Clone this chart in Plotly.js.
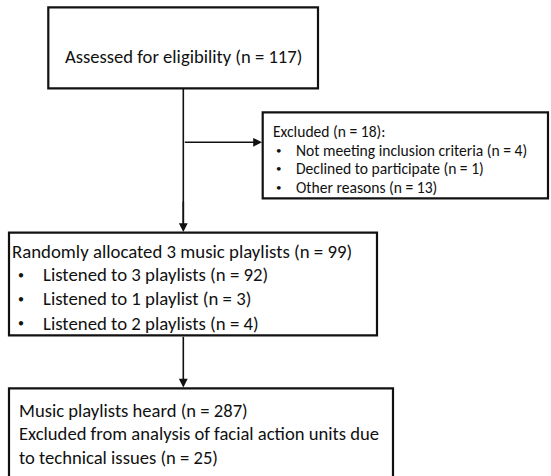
<!DOCTYPE html>
<html>
<head>
<meta charset="utf-8">
<script src="https://cdn.plot.ly/plotly-3.0.1.min.js"></script>
<style>html,body{margin:0;padding:0;background:#fff;}#chart{width:551px;height:476px;}</style>
</head>
<body>
<div id="chart"></div>
<script>
// Flow-chart content
const assessedLines = ["Assessed for eligibility (n = 117)"];
const excludedHeader = ["Excluded (n = 18):"];
const excludedBullets = ["Not meeting inclusion criteria (n = 4)", "Declined to participate (n = 1)", "Other reasons (n = 13)"];
const allocatedHeader = ["Randomly allocated 3 music playlists (n = 99)"];
const allocatedBullets = ["Listened to 3 playlists (n = 92)", "Listened to 1 playlist (n = 3)", "Listened to 2 playlists (n = 4)"];
const heardLines = ["Music playlists heard (n = 287)", "Excluded from analysis of facial action units due", "to technical issues (n = 25)"];

const FONT = "Carlito, Lato, 'Liberation Sans', sans-serif";
const INK = "#111111";

// box geometry (layout)
const boxes = [
  {x0: 48.3, x1: 318, y0: 7.3, y1: 88.3},
  {x0: 262.7, x1: 548, y0: 112.3, y1: 198.3},
  {x0: 9, x1: 377, y0: 232.7, y1: 335.3},
  {x0: 9, x1: 393, y0: 388.3, y1: 500}
];
const shapes = boxes.map(b => ({type: 'rect', xref: 'x', yref: 'y', x0: b.x0, x1: b.x1, y0: b.y0, y1: b.y1,
  line: {color: INK, width: 2.2}, fillcolor: 'rgba(0,0,0,0)'}));

const annotations = [];
function txt(x, y, t, size, anchor) {
  annotations.push({x: x, y: y, xref: 'x', yref: 'y', text: t, showarrow: false,
    xanchor: anchor || 'left', yanchor: 'middle', font: {family: FONT, size: size, color: INK}});
}
function arrow(xTip, yTip, xFrom, yFrom) {
  annotations.push({x: xTip, y: yTip, ax: xFrom, ay: yFrom, xref: 'x', yref: 'y', axref: 'x', ayref: 'y',
    text: '', showarrow: true, arrowhead: 2, arrowsize: 1.1, arrowwidth: 1.6, arrowcolor: INK, standoff: 0});
}

// Box 1
assessedLines.forEach(t => txt(183, 56, t, 18.6, 'center'));
// Box 2
excludedHeader.forEach(t => txt(271, 131.5, t, 15.6));
excludedBullets.forEach((t, i) => { const y = 150 + i * 18.6; txt(274, y, '•', 11); txt(293.5, y, t, 15.6); });
// Box 3
allocatedHeader.forEach(t => txt(9.6, 251, t, 18.8));
allocatedBullets.forEach((t, i) => { const y = 274.5 + i * 24.3; txt(15.5, y, '•', 12); txt(41, y, t, 18.8); });
// Box 4
heardLines.forEach((t, i) => txt(16.5, 410 + i * 23.6, t, 18.6));

// connectors
shapes.push({type: 'line', xref: 'x', yref: 'y', x0: 183.3, x1: 183.3, y0: 88.3, y1: 225, line: {color: INK, width: 1.6}});
arrow(183.3, 232, 183.3, 200);
arrow(262, 142.3, 183.3, 142.3);
arrow(183.3, 387.5, 183.3, 335.3);

const layout = {
  width: 551, height: 476,
  margin: {l: 0, r: 0, t: 0, b: 0},
  paper_bgcolor: '#fff', plot_bgcolor: '#fff',
  xaxis: {range: [0, 551], visible: false, fixedrange: true},
  yaxis: {range: [476, 0], visible: false, fixedrange: true},
  showlegend: false,
  shapes: shapes,
  annotations: annotations
};
Plotly.newPlot('chart', [{x: [], y: [], type: 'scatter', mode: 'markers', hoverinfo: 'skip'}], layout, {displayModeBar: false, staticPlot: true});
</script>
</body>
</html>
